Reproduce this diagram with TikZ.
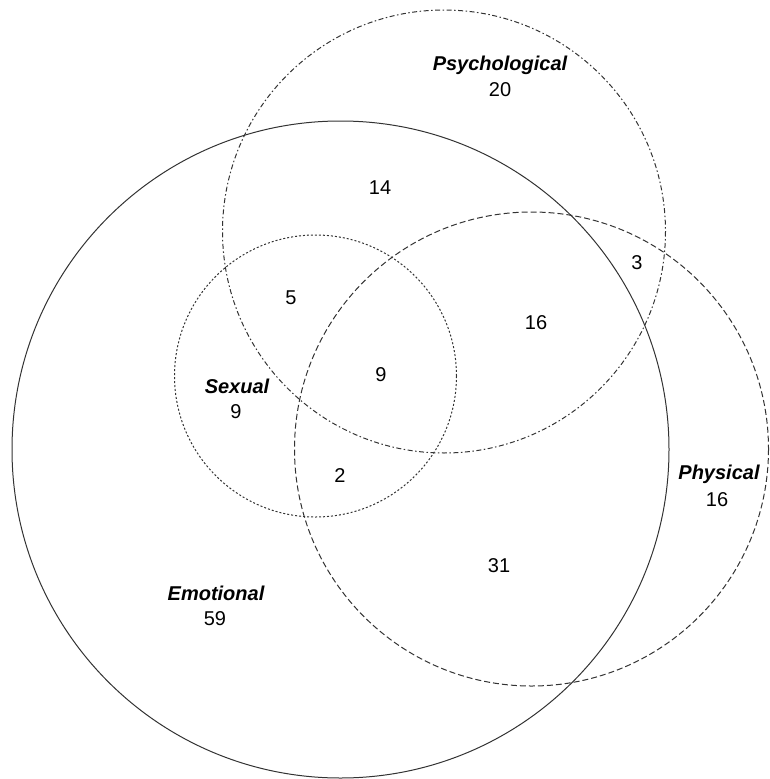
\documentclass[tikz,border=0pt]{standalone}
\usepackage{fontspec}
\setmainfont{Liberation Sans}
\usetikzlibrary{backgrounds}
\tikzset{
  setname/.style={font=\fontsize{20}{23}\selectfont\bfseries\itshape, inner sep=0pt},
  setcount/.style={font=\fontsize{20}{23}\selectfont, inner sep=0pt},
  ring/.style={line width=1pt, draw=black!80}
}
\begin{document}
\begin{tikzpicture}[x=1pt, y=-1pt]
\useasboundingbox (0,0) rectangle (770,779);

% Draw the four sets
\draw[ring] (340.5,449.5) circle (328.5);
\draw[ring, dash pattern=on 5pt off 2.5pt on 1.5pt off 2.5pt] (444,231.5) circle (221.5);
\draw[ring, dash pattern=on 6pt off 3pt] (531.5,449) circle (237);
\draw[ring, dash pattern=on 2pt off 2pt] (315.5,376) circle (141);

% Set names with their own counts
\node[setname] (psy) at (500,65) {Psychological};
\node[setcount] (psyn) at (500,90) {20};
\node[setname] (sex) at (237,386) {Sexual};
\node[setcount] (sexn) at (236,412) {9};
\node[setname] (phy) at (719,474) {Physical};
\node[setcount] (phyn) at (717,500) {16};
\node[setname] (emo) at (216,593) {Emotional};
\node[setcount] (emon) at (215,619) {59};

% Counts of the overlaps
\node[setcount] (ep) at (380,188) {14};
\node[setcount] (pq) at (637,263) {3};
\node[setcount] (eps) at (291,298) {5};
\node[setcount] (epq) at (536,323) {16};
\node[setcount] (all) at (381,375) {9};
\node[setcount] (esq) at (340,476) {2};
\node[setcount] (eq) at (499,566) {31};
\end{tikzpicture}
\end{document}
